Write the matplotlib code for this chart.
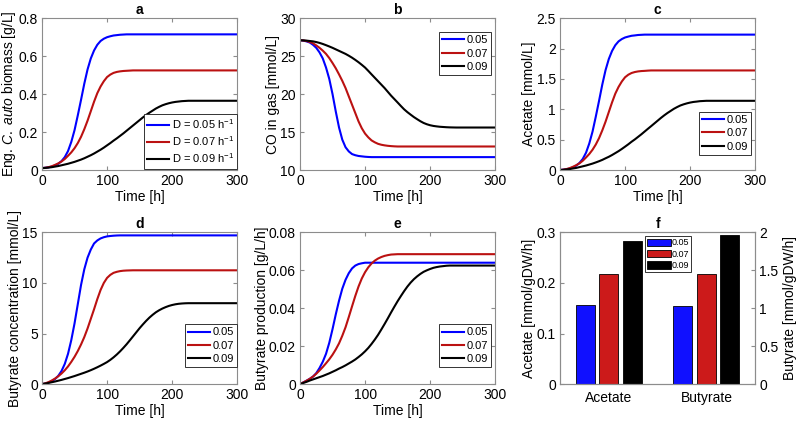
import matplotlib
matplotlib.use("Agg")
import matplotlib.pyplot as plt
from matplotlib.ticker import FuncFormatter

plt.rcParams['font.family'] = ['Liberation Sans', 'DejaVu Sans']
plt.rcParams['mathtext.fontset'] = 'custom'
plt.rcParams['mathtext.rm'] = 'Liberation Sans'
plt.rcParams['mathtext.it'] = 'Liberation Sans:italic'

# time grid [h], values every 5 h
time_h = list(range(0, 301, 5))
dilution = ["0.05", "0.07", "0.09"]

# a: biomass [g/L]
biomass_005 = [0.010, 0.012, 0.014, 0.018, 0.024, 0.033, 0.047, 0.068, 0.100, 0.148, 0.210,
               0.288, 0.370, 0.455, 0.530, 0.588, 0.630, 0.660, 0.680, 0.692, 0.700, 0.705,
               0.709, 0.711, 0.713, 0.714, 0.715] + [0.715] * 34
biomass_007 = [0.010, 0.012, 0.015, 0.020, 0.027, 0.035, 0.045, 0.058, 0.075, 0.093, 0.115,
               0.142, 0.175, 0.215, 0.260, 0.310, 0.360, 0.405, 0.440, 0.468, 0.490, 0.503,
               0.512, 0.517, 0.520, 0.522, 0.523, 0.524, 0.525] + [0.525] * 32
biomass_009 = [0.010, 0.011, 0.013, 0.015, 0.018, 0.021, 0.025, 0.029, 0.033, 0.038, 0.043,
               0.049, 0.055, 0.062, 0.070, 0.078, 0.087, 0.097, 0.107, 0.118, 0.130, 0.142,
               0.155, 0.167, 0.180, 0.193, 0.207, 0.221, 0.235, 0.249, 0.263, 0.277, 0.290,
               0.302, 0.313, 0.324, 0.333, 0.341, 0.347, 0.352, 0.356, 0.359, 0.361, 0.363,
               0.364, 0.365] + [0.365] * 15

# b: CO in gas [mmol/L]
co_005 = [27.1, 27.05, 26.95, 26.8, 26.5, 26.1, 25.5, 24.7, 23.5, 22.0, 20.0, 17.7, 15.6,
          14.0, 13.0, 12.45, 12.1, 11.95, 11.85, 11.8, 11.75, 11.72, 11.7] + [11.7] * 38
co_007 = [27.1, 27.07, 27.0, 26.87, 26.7, 26.42, 26.1, 25.73, 25.3, 24.75, 24.1, 23.4, 22.6,
          21.75, 20.8, 19.7, 18.6, 17.5, 16.4, 15.5, 14.8, 14.3, 13.9, 13.65, 13.45, 13.33,
          13.25, 13.19, 13.15, 13.12, 13.1] + [13.1] * 30
co_009 = [27.1, 27.08, 27.05, 27.0, 26.95, 26.86, 26.75, 26.61, 26.45, 26.28, 26.1, 25.9,
          25.7, 25.5, 25.3, 25.06, 24.8, 24.51, 24.2, 23.86, 23.5, 23.06, 22.6, 22.15, 21.7,
          21.25, 20.8, 20.3, 19.8, 19.35, 18.9, 18.44, 18.0, 17.63, 17.3, 16.98, 16.7, 16.43,
          16.2, 16.03, 15.9, 15.81, 15.75, 15.7, 15.67, 15.64, 15.62, 15.61, 15.6] + [15.6] * 12

# c: acetate [mmol/L]
acetate_005 = [0.0, 0.006, 0.013, 0.025, 0.044, 0.073, 0.117, 0.183, 0.285, 0.437, 0.633,
               0.879, 1.139, 1.408, 1.645, 1.828, 1.961, 2.056, 2.119, 2.157, 2.183, 2.198,
               2.211, 2.217, 2.224, 2.227, 2.23] + [2.23] * 34
acetate_007 = [0.0, 0.006, 0.016, 0.032, 0.054, 0.080, 0.111, 0.153, 0.207, 0.264, 0.334,
               0.420, 0.525, 0.653, 0.796, 0.955, 1.114, 1.258, 1.369, 1.458, 1.528, 1.570,
               1.598, 1.614, 1.624, 1.630, 1.633, 1.637, 1.64] + [1.64] * 32
acetate_009 = [0.0, 0.003, 0.010, 0.016, 0.026, 0.035, 0.048, 0.061, 0.074, 0.090, 0.106,
               0.125, 0.145, 0.167, 0.193, 0.218, 0.247, 0.279, 0.311, 0.347, 0.385, 0.424,
               0.466, 0.504, 0.546, 0.588, 0.633, 0.678, 0.722, 0.767, 0.812, 0.857, 0.899,
               0.938, 0.973, 1.008, 1.037, 1.063, 1.082, 1.098, 1.111, 1.121, 1.127, 1.134,
               1.137, 1.14] + [1.14] * 15

# d: butyrate concentration [mmol/L]
butconc_005 = [0.0, 0.06, 0.15, 0.3, 0.5, 0.82, 1.3, 2.0, 3.0, 4.35, 6.0, 7.9, 9.8, 11.35,
               12.5, 13.3, 13.9, 14.2, 14.4, 14.52, 14.6, 14.64, 14.67, 14.69, 14.7] + [14.7] * 36
butconc_007 = [0.0, 0.08, 0.2, 0.36, 0.55, 0.78, 1.05, 1.37, 1.75, 2.2, 2.7, 3.27, 3.92, 4.65,
               5.5, 6.45, 7.4, 8.4, 9.3, 10.0, 10.5, 10.8, 11.0, 11.1, 11.17, 11.21, 11.23,
               11.24, 11.25] + [11.25] * 32
butconc_009 = [0.0, 0.06, 0.12, 0.19, 0.26, 0.34, 0.42, 0.51, 0.6, 0.7, 0.8, 0.91, 1.02, 1.13,
               1.25, 1.38, 1.52, 1.67, 1.83, 2.0, 2.18, 2.4, 2.65, 2.93, 3.24, 3.58, 3.94, 4.33,
               4.73, 5.13, 5.53, 5.9, 6.25, 6.57, 6.85, 7.1, 7.3, 7.47, 7.61, 7.73, 7.82, 7.89,
               7.94, 7.97, 7.99, 8.0] + [8.0] * 15

# e: butyrate production [g/L/h]
butprod_005 = [0.0, 0.0009, 0.0018, 0.0028, 0.004, 0.0058, 0.0085, 0.0118, 0.016, 0.0218,
               0.029, 0.0368, 0.044, 0.0503, 0.055, 0.0585, 0.061, 0.0625, 0.0633, 0.0637,
               0.064] + [0.064] * 40
butprod_007 = [0.0, 0.0009, 0.0018, 0.0028, 0.004, 0.0055, 0.0072, 0.009, 0.011, 0.0131,
               0.0155, 0.0183, 0.0215, 0.0255, 0.030, 0.0354, 0.041, 0.0465, 0.0515, 0.0557,
               0.059, 0.0616, 0.0636, 0.0651, 0.0662, 0.067, 0.0676, 0.068, 0.0683, 0.0684,
               0.0685] + [0.0685] * 30
butprod_009 = [0.0, 0.0006, 0.0012, 0.0019, 0.0025, 0.0031, 0.0037, 0.0043, 0.005, 0.0057,
               0.0065, 0.0073, 0.0082, 0.009, 0.0099, 0.0109, 0.0119, 0.013, 0.0143, 0.0157,
               0.0173, 0.0191, 0.0212, 0.0235, 0.026, 0.0288, 0.0317, 0.0347, 0.0378, 0.0408,
               0.0437, 0.0464, 0.049, 0.0514, 0.0535, 0.0553, 0.0568, 0.0581, 0.0592, 0.06,
               0.0607, 0.0613, 0.0617, 0.062, 0.0622, 0.0624, 0.0625] + [0.0625] * 14

# f: specific production rates [mmol/gDW/h]
products = ["Acetate", "Butyrate"]
acetate_rate = [0.156, 0.218, 0.282]
butyrate_rate = [1.03, 1.45, 1.97]

LINE_COLORS = ["#0000ff", "#bb1111", "#000000"]
BAR_COLORS = ["#1010ff", "#cc1a1a", "#000000"]
SPINE = "#8c8c8c"
fmt_g = FuncFormatter(lambda v, pos: "%g" % round(v, 6))


def style_axes(ax):
    for sp in ax.spines.values():
        sp.set_color(SPINE)
        sp.set_linewidth(0.8)
    ax.tick_params(direction="in", length=3, width=0.8, color=SPINE, labelsize=10,
                   top=True, right=True, pad=3)


def line_panel(pos, series, ylim, yticks, ylabel, title, labels, legend_kw):
    ax = fig.add_axes(pos)
    for vals, col, lab in zip(series, LINE_COLORS, labels):
        assert len(vals) == len(time_h)
        ax.plot(time_h, vals, color=col, lw=1.5, label=lab, solid_joinstyle="round")
    ax.set_xlim(0, 300)
    ax.set_xticks([0, 100, 200, 300])
    ax.set_ylim(*ylim)
    ax.set_yticks(yticks)
    ax.yaxis.set_major_formatter(fmt_g)
    ax.set_xlabel("Time [h]", fontsize=10, labelpad=1)
    ax.set_ylabel(ylabel, fontsize=10, labelpad=0)
    ax.set_title(title, fontsize=10, fontweight="bold", pad=3)
    style_axes(ax)
    leg = ax.legend(fontsize=8, frameon=True, fancybox=False, framealpha=1,
                    edgecolor="#333333", borderpad=0.3, labelspacing=0.3,
                    handlelength=2.0, handletextpad=0.2, borderaxespad=0.0, **legend_kw)
    leg.get_frame().set_linewidth(0.7)
    return ax


fig = plt.figure(figsize=(8, 4.24), dpi=100)

col_left = [0.0525, 0.375, 0.70]
col_w = 0.244
row_bottom = [0.599, 0.094]
row_h = 0.358

label_a = [r"D = 0.05 h$^{-1}$", r"D = 0.07 h$^{-1}$", r"D = 0.09 h$^{-1}$"]

line_panel([col_left[0], row_bottom[0], col_w, row_h],
           [biomass_005, biomass_007, biomass_009], (0, 0.8), [0, 0.2, 0.4, 0.6, 0.8],
           r"Eng. $\mathit{C.\ auto}$ biomass [g/L]", "a", label_a,
           dict(loc="lower right", bbox_to_anchor=(1.0, 0.01)))

line_panel([col_left[1], row_bottom[0], col_w, row_h],
           [co_005, co_007, co_009], (10, 30), [10, 15, 20, 25, 30],
           "CO in gas [mmol/L]", "b", dilution,
           dict(loc="upper right", bbox_to_anchor=(0.98, 0.91)))

line_panel([col_left[2], row_bottom[0], col_w, row_h],
           [acetate_005, acetate_007, acetate_009], (0, 2.5), [0, 0.5, 1, 1.5, 2, 2.5],
           "Acetate [mmol/L]", "c", dilution,
           dict(loc="lower right", bbox_to_anchor=(0.98, 0.1)))

line_panel([col_left[0], row_bottom[1], col_w, row_h],
           [butconc_005, butconc_007, butconc_009], (0, 15), [0, 5, 10, 15],
           "Butyrate concentration [mmol/L]", "d", dilution,
           dict(loc="lower right", bbox_to_anchor=(1.0, 0.11)))

line_panel([col_left[1], row_bottom[1], col_w, row_h],
           [butprod_005, butprod_007, butprod_009], (0, 0.08), [0, 0.02, 0.04, 0.06, 0.08],
           "Butyrate production [g/L/h]", "e", dilution,
           dict(loc="lower right", bbox_to_anchor=(0.98, 0.11)))

# f: grouped bars on two y axes
axf = fig.add_axes([col_left[2], row_bottom[1], col_w, row_h])
axr = axf.twinx()
offsets = [-0.24, 0.0, 0.24]
bar_w = 0.195
handles = []
for i, (off, col) in enumerate(zip(offsets, BAR_COLORS)):
    h = axf.bar(1 + off, acetate_rate[i], width=bar_w, color=col, edgecolor="black",
                linewidth=0.6, label=dilution[i])
    axr.bar(2 + off, butyrate_rate[i], width=bar_w, color=col, edgecolor="black",
            linewidth=0.6)
    handles.append(h)
axf.set_xlim(0.5, 2.5)
axf.set_xticks([1, 2])
axf.set_xticklabels(products)
axf.set_ylim(0, 0.3)
axf.set_yticks([0, 0.1, 0.2, 0.3])
axf.yaxis.set_major_formatter(fmt_g)
axr.set_ylim(0, 2)
axr.set_yticks([0, 0.5, 1, 1.5, 2])
axr.yaxis.set_major_formatter(fmt_g)
axf.set_ylabel("Acetate [mmol/gDW/h]", fontsize=10, labelpad=0)
axr.set_ylabel("Butyrate [mmol/gDW/h]", fontsize=10, labelpad=3, rotation=90)
axf.set_title("f", fontsize=10, fontweight="bold", pad=3)
style_axes(axf)
axf.tick_params(axis="x", top=False, length=0, pad=5)
axf.tick_params(right=False)
style_axes(axr)
axr.tick_params(left=False, top=False, right=True, labelright=True, labelleft=False)
legf = axr.legend(handles, dilution, fontsize=6.5, frameon=True, fancybox=False,
                  framealpha=1, edgecolor="#333333", borderpad=0.25, labelspacing=0.25,
                  handlelength=2.6, handleheight=0.9, handletextpad=0.1,
                  loc="upper left", bbox_to_anchor=(0.435, 0.975), borderaxespad=0.0)
legf.get_frame().set_linewidth(0.7)

fig.savefig("out.png", dpi=100)
